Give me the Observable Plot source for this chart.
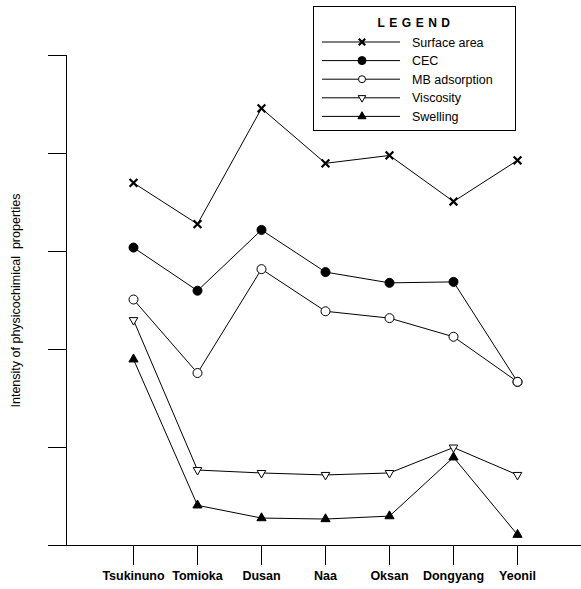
<!DOCTYPE html>
<html><head><meta charset="utf-8">
<script src="https://cdn.jsdelivr.net/npm/d3@7"></script>
<script src="https://cdn.jsdelivr.net/npm/@observablehq/plot@0.6"></script>
<style>body{margin:0;background:#fff}</style>
</head><body><div id="chart"></div>
<script>
const sites = ["Tsukinuno","Tomioka","Dusan","Naa","Oksan","Dongyang","Yeonil"];
const surfaceArea = [3.70,3.28,4.46,3.90,3.98,3.51,3.93];
const cec = [3.04,2.60,3.22,2.79,2.68,2.69,1.67];
const mbAdsorption = [2.51,1.76,2.82,2.39,2.32,2.13,1.67];
const viscosity = [2.30,0.77,0.74,0.72,0.74,1.00,0.72];
const swelling = [1.90,0.41,0.28,0.27,0.30,0.90,0.11];
const seriesNames = ["Surface area","CEC","MB adsorption","Viscosity","Swelling"];
const seriesValues = [surfaceArea, cec, mbAdsorption, viscosity, swelling];
const yTicks = [0,1,2,3,4,5];

const styles = {
  "Surface area": {symbol: "times", fill: "none", stroke: "black", strokeWidth: 2.2, r: 3.6, rotate: 0, lr: 3},
  "CEC": {symbol: "circle", fill: "black", stroke: "black", strokeWidth: 1, r: 4.5, rotate: 0, lr: 4},
  "MB adsorption": {symbol: "circle", fill: "white", stroke: "black", strokeWidth: 1, r: 4.5, rotate: 0, lr: 3.5},
  "Viscosity": {symbol: "triangle", fill: "white", stroke: "black", strokeWidth: 1, r: 3.2, rotate: 180, lr: 2.8},
  "Swelling": {symbol: "triangle", fill: "black", stroke: "black", strokeWidth: 1, r: 3.4, rotate: 0, lr: 3}
};

const data = [];
seriesNames.forEach((s, i) => sites.forEach((site, j) => data.push({series: s, site, value: seriesValues[i][j]})));

const font = "'Liberation Sans', Arial, sans-serif";

const plot = Plot.plot({
  width: 581,
  height: 589,
  marginLeft: 66,
  marginRight: 0,
  marginTop: 55,
  marginBottom: 44,
  style: {fontFamily: font, fontSize: "11px", color: "black", background: "white"},
  x: {type: "point", domain: sites, range: [130, 519], padding: 0},
  y: {domain: [0, 5]},
  marks: [
    Plot.frame({anchor: "left", stroke: "black"}),
    Plot.frame({anchor: "bottom", stroke: "black"}),
    Plot.axisY({ticks: yTicks, tickSize: 18, tickFormat: () => "", label: null}),
    Plot.axisX({tickSize: 20, tickPadding: 6, label: null, fontWeight: "bold", fontSize: 12.5}),
    Plot.text(["Intensity of physicochimical  properties"], {frameAnchor: "left", textAnchor: "middle", dx: -51, rotate: -90, fontSize: 12.5}),
    Plot.line(data, {x: "site", y: "value", z: "series", stroke: "black", strokeWidth: 1}),
    ...seriesNames.map(s => Plot.dot(data.filter(d => d.series === s), {
      x: "site", y: "value",
      symbol: () => styles[s].symbol,
      fill: styles[s].fill, stroke: styles[s].stroke, strokeWidth: styles[s].strokeWidth,
      r: styles[s].r, rotate: styles[s].rotate
    }))
  ]
});
document.getElementById("chart").appendChild(plot);

// Legend box inside the plot
const svg = d3.select(plot);
const g = svg.append("g").attr("font-family", font).attr("text-anchor", "start");
g.append("rect").attr("x", 313.5).attr("y", 6.5).attr("width", 202).attr("height", 124)
  .attr("fill", "white").attr("stroke", "black");
g.append("text").attr("x", 416).attr("y", 27).attr("text-anchor", "middle")
  .attr("font-weight", "bold").attr("font-size", 12).attr("letter-spacing", 4.5).text("LEGEND");
const symMap = {times: d3.symbolTimes, circle: d3.symbolCircle, triangle: d3.symbolTriangle};
seriesNames.forEach((s, i) => {
  const y = 42 + i * 18.6;
  const st = styles[s];
  g.append("line").attr("x1", 322).attr("x2", 400).attr("y1", y).attr("y2", y).attr("stroke", "black");
  g.append("path").attr("d", d3.symbol(symMap[st.symbol], Math.PI * st.lr * st.lr)())
    .attr("transform", `translate(362,${y}) rotate(${st.rotate})`)
    .attr("fill", st.fill).attr("stroke", "black").attr("stroke-width", st.strokeWidth);
  g.append("text").attr("x", 412).attr("y", y + 4.5).attr("font-size", 12.5).text(s);
});
</script></body></html>
